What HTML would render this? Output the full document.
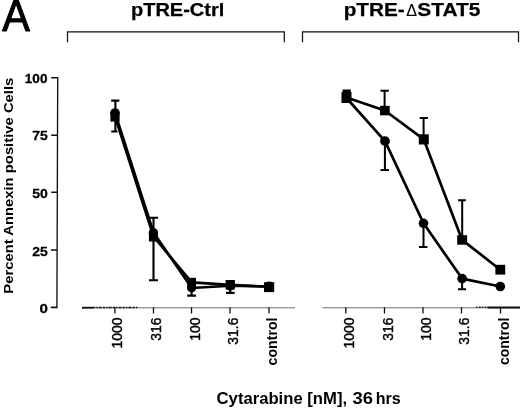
<!DOCTYPE html>
<html><head><meta charset="utf-8">
<style>
html,body{margin:0;padding:0;background:#fff;}
svg{display:block}
text{font-family:"Liberation Sans",sans-serif;fill:#000}
.b{font-weight:bold}
</style></head><body>
<svg width="520" height="409" viewBox="0 0 520 409">
<rect width="520" height="409" fill="#fff"/>
<!-- panel letter -->
<text transform="translate(2.2 30.8) scale(0.94 1)" font-size="44" stroke="#000" stroke-width="1" stroke-linejoin="round">A</text>
<!-- titles -->
<text class="b" x="131" y="15.7" stroke="#000" stroke-width="0.25" font-size="17.7" textLength="93.3" lengthAdjust="spacingAndGlyphs">pTRE-Ctrl</text>
<text class="b" x="343.7" y="15.7" stroke="#000" stroke-width="0.25" font-size="17.7" textLength="61" lengthAdjust="spacingAndGlyphs">pTRE-</text>
<text x="406.2" y="15.7" font-size="17.4" textLength="10.8" lengthAdjust="spacingAndGlyphs">Δ</text>
<text class="b" x="417.3" y="15.7" stroke="#000" stroke-width="0.25" font-size="17.7" textLength="63" lengthAdjust="spacingAndGlyphs">STAT5</text>
<!-- brackets -->
<g fill="none" stroke="#111" stroke-width="1.25">
<path d="M67.5 42.2V31.8H284.3V42.2"/>
<path d="M302.5 42.2V31.8H518.5V42.2"/>
</g>
<!-- y axis -->
<g stroke="#111" fill="none">
<path d="M57.7 77.2L57.3 200L56.9 308.2" stroke-width="1.35"/>
<path d="M51.2 77.8H57.7M51.2 135.2H57.5M51.2 192.3H57.3M51 250H57.1M50.8 307.4H56.9" stroke-width="1.6"/>
</g>
<g class="b" font-size="12" stroke="#000" stroke-width="0.25">
<text transform="translate(24.8 82.6) scale(1.12 1.09)" textLength="20.2" lengthAdjust="spacingAndGlyphs">100</text>
<text transform="translate(32.3 140) scale(1.12 1.09)" textLength="13.9" lengthAdjust="spacingAndGlyphs">75</text>
<text transform="translate(32.3 198.3) scale(1.12 1.09)" textLength="13.9" lengthAdjust="spacingAndGlyphs">50</text>
<text transform="translate(32.3 255.5) scale(1.12 1.09)" textLength="13.9" lengthAdjust="spacingAndGlyphs">25</text>
<text transform="translate(39.4 312.5) scale(1.12 1.09)" textLength="7.5" lengthAdjust="spacingAndGlyphs">0</text>
</g>
<text class="b" transform="translate(12.7 293.7) rotate(-90)" font-size="12.4" textLength="216" lengthAdjust="spacingAndGlyphs">Percent Annexin positive Cells</text>
<!-- x axes -->
<g stroke="#707070" stroke-width="1" fill="none">
<path d="M82 307.8H295"/>
<path d="M322.5 307.8H520"/>
</g>
<g stroke="#111" fill="none">
<path d="M82 307.7H93" stroke-width="1.8"/>
<path d="M93 307.6H138" stroke-width="1.5" stroke-dasharray="2.2 1.1 1.4 1 3 1.2"/>
<path d="M476 307.2H488" stroke-width="1.3" stroke-dasharray="1.5 1.2 2 1"/>
<path d="M487.7 307.5H520" stroke-width="2.1"/>
</g>
<g stroke="#111" stroke-width="1.3" fill="none">
<path d="M114.9 307.3V313.5M153.5 307.3V313.5M191.5 307.3V313.5M230 307.3V313.5M269 307.3V313.5"/>
<path d="M345.8 307.3V313.5M384.5 307.3V313.5M423 307.3V313.5M461.5 307.3V313.5M500.5 307.3V313.5"/>
</g>
<!-- x tick labels -->
<g font-size="13.9" text-anchor="end" stroke="#000" stroke-width="0.4">
<text transform="translate(122 317.6) rotate(-90)">1000</text>
<text transform="translate(161.4 317.6) rotate(-90)">316</text>
<text transform="translate(199.5 317.6) rotate(-90)">100</text>
<text transform="translate(238.2 317.6) rotate(-90)">31.6</text>
<text transform="translate(353.6 317.6) rotate(-90)">1000</text>
<text transform="translate(392.6 317.6) rotate(-90)">316</text>
<text transform="translate(431.1 317.6) rotate(-90)">100</text>
<text transform="translate(469.2 317.6) rotate(-90)">31.6</text>
</g>
<g class="b" font-size="13.8" text-anchor="end">
<text transform="translate(277.2 317.5) rotate(-90)" textLength="48" lengthAdjust="spacingAndGlyphs">control</text>
<text transform="translate(509.1 317.5) rotate(-90)" textLength="47.6" lengthAdjust="spacingAndGlyphs">control</text>
</g>
<!-- x title -->
<text class="b" x="216.6" y="403.9" font-size="16" textLength="130.5" lengthAdjust="spacingAndGlyphs">Cytarabine [nM],</text>
<text class="b" x="352.6" y="403.9" font-size="16" textLength="20.4" lengthAdjust="spacingAndGlyphs">36</text>
<text class="b" x="375.8" y="403.9" font-size="16" textLength="25" lengthAdjust="spacingAndGlyphs">hrs</text>

<!-- LEFT PANEL error bars -->
<g stroke="#000" stroke-width="2.1" fill="none">
<path d="M115.4 100.4V131.5M111.2 100.6H119.4M111.2 131.5H117.5"/>
<path d="M153.5 217.6V280.2M149 217.8H158M149 280.2H158"/>
<path d="M191.6 288V295.5M187.2 295.6H196"/>
<path d="M230.2 286V292.8M226 292.9H234.6"/>
</g>
<!-- LEFT lines -->
<g stroke="#000" fill="none" stroke-linejoin="round" stroke-linecap="round" stroke-width="2.6">
<path d="M115.2 117L153.5 236.5L191.7 282.4L230.2 284.9L269.3 286.8"/>
<path d="M115.2 113.5L153.5 232.5L191.7 288L230.2 285.7L269.3 286.6"/>
</g>
<!-- LEFT markers -->
<g fill="#000">
<circle cx="115" cy="113" r="4.8"/><rect x="110.4" y="112.2" width="9.2" height="9.4"/>
<circle cx="153.4" cy="232.8" r="4.7"/><rect x="148.9" y="232" width="9" height="9.5"/>
<rect x="187.2" y="277.8" width="8.8" height="9.5"/><circle cx="191.6" cy="287.8" r="4.7"/>
<rect x="225.6" y="280" width="9.3" height="9.4"/><circle cx="230.2" cy="286" r="4.6"/>
<rect x="264" y="282.2" width="10.2" height="9.9"/><circle cx="269.2" cy="286.4" r="4.9"/>
</g>

<!-- RIGHT error bars -->
<g stroke="#000" stroke-width="2" fill="none">
<path d="M342.6 90.8H350.8" stroke-width="2.6"/>
<path d="M384.6 90.8V106M380.5 90.8H388.8"/>
<path d="M384.9 146V169.9M380.5 169.9H389"/>
<path d="M423.6 118V135M419.7 118H427.9"/>
<path d="M423.5 228V247.1M419 247.1H427.4"/>
<path d="M462.2 200.2V236M458.1 200.2H465.9"/>
<path d="M462.1 283V289.3M458 289.3H466"/>
</g>
<!-- RIGHT lines -->
<g stroke="#000" fill="none" stroke-width="2.7" stroke-linejoin="round">
<path d="M346.5 97.5L384.8 110.5L423.8 139.4L462.1 239.9L500.3 269.7"/>
<path d="M346.5 98L385 141.1L423.5 223.3L462.1 278.6L500.3 286.5"/>
</g>
<!-- RIGHT markers -->
<g fill="#000">
<rect x="341.5" y="92" width="10" height="11"/>
<rect x="380" y="105.8" width="9.7" height="9.5"/>
<rect x="418.8" y="134.3" width="10" height="10.2"/>
<rect x="457.2" y="235.2" width="9.9" height="9.5"/>
<rect x="495.4" y="264.8" width="9.8" height="9.8"/>
<circle cx="385" cy="141.1" r="4.9"/>
<circle cx="423.5" cy="223.3" r="4.8"/>
<circle cx="462.1" cy="278.6" r="4.8"/>
<circle cx="500.3" cy="286.5" r="4.8"/>
</g>
</svg>
</body></html>
